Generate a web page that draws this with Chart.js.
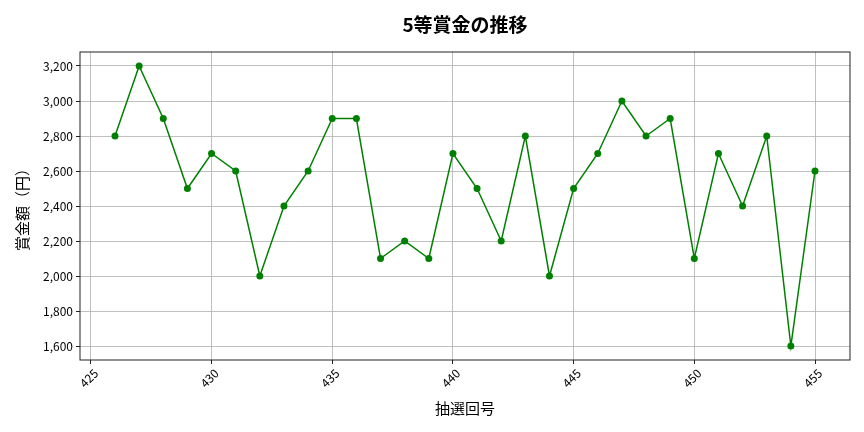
<!DOCTYPE html>
<html>
<head>
<meta charset="utf-8">
<script src="https://cdn.jsdelivr.net/npm/chart.js@4.4.1/dist/chart.umd.min.js"></script>
<style>
  html, body { margin: 0; padding: 0; background: #fff; }
  #wrap { width: 864px; height: 432px; }
</style>
</head>
<body>
<div id="wrap"><canvas id="myChart" width="864" height="432"></canvas></div>
<script>
// draw numbers and prize amounts
const drawNumbers = [426, 427, 428, 429, 430, 431, 432, 433, 434, 435,
                     436, 437, 438, 439, 440, 441, 442, 443, 444, 445,
                     446, 447, 448, 449, 450, 451, 452, 453, 454, 455];
const prizeValues = [2800, 3200, 2900, 2500, 2700, 2600, 2000, 2400, 2600, 2900,
                     2900, 2100, 2200, 2100, 2700, 2500, 2200, 2800, 2000, 2500,
                     2700, 3000, 2800, 2900, 2100, 2700, 2400, 2800, 1600, 2600];
const xTicks = [425, 430, 435, 440, 445, 450, 455];
const yTicks = [1600, 1800, 2000, 2200, 2400, 2600, 2800, 3000, 3200];

const FONT = "'Noto Sans CJK JP', 'Noto Sans', sans-serif";
const titleText = '5等賞金の推移';

// title centred over the plot area + black frame round it
const framePlugin = {
    id: 'frame',
    afterDraw(chart) {
        const { ctx, chartArea: a } = chart;
        ctx.save();
        ctx.strokeStyle = '#222';
        ctx.lineWidth = 1;
        ctx.strokeRect(a.left, a.top, a.right - a.left, a.bottom - a.top);
        ctx.fillStyle = '#000';
        ctx.font = 'bold 19px ' + FONT;
        ctx.textAlign = 'center';
        ctx.textBaseline = 'middle';
        ctx.fillText(titleText, (a.left + a.right) / 2, 25);
        ctx.restore();
    }
};

const points = drawNumbers.map((n, i) => ({ x: n, y: prizeValues[i] }));

new Chart(document.getElementById('myChart').getContext('2d'), {
    type: 'line',
    data: {
        datasets: [{
            data: points,
            borderColor: '#008000',
            backgroundColor: '#008000',
            borderWidth: 1.5,
            pointRadius: 3.5,
            pointHoverRadius: 3.5,
            pointBorderWidth: 0,
            tension: 0
        }]
    },
    options: {
        responsive: false,
        animation: false,
        devicePixelRatio: 1,
        layout: { padding: { top: 52, right: 14, left: 0, bottom: 0 } },
        plugins: { legend: { display: false }, tooltip: { enabled: false } },
        scales: {
            x: {
                type: 'linear',
                min: 424.55,
                max: 456.45,
                afterBuildTicks: s => { s.ticks = xTicks.map(v => ({ value: v })); },
                afterFit: s => { s.height = 72; },
                grid: { color: '#b0b0b0', lineWidth: 0.8, tickLength: 4, drawTicks: true,
                        tickColor: '#222', tickWidth: 1 },
                border: { display: false },
                ticks: {
                    minRotation: 45, maxRotation: 45, padding: 2, labelOffset: 5,
                    color: '#000',
                    font: { family: FONT, size: 12 },
                    callback: v => String(v)
                },
                title: {
                    display: true, text: '抽選回号', color: '#000',
                    font: { family: FONT, size: 15 }, padding: { top: 4, bottom: 15 }
                }
            },
            y: {
                min: 1520,
                max: 3280,
                afterBuildTicks: s => { s.ticks = yTicks.map(v => ({ value: v })); },
                afterFit: s => { s.width = 80; },
                grid: { color: '#b0b0b0', lineWidth: 0.8, tickLength: 4, drawTicks: true,
                        tickColor: '#222', tickWidth: 1 },
                border: { display: false },
                ticks: {
                    padding: 3, color: '#000',
                    font: { family: FONT, size: 12 },
                    callback: v => v.toLocaleString('en-US')
                },
                title: {
                    display: true, text: '賞金額（円）', color: '#000',
                    font: { family: FONT, size: 15 }, padding: { top: 13, bottom: 6 }
                }
            }
        }
    },
    plugins: [framePlugin]
});
</script>
</body>
</html>
